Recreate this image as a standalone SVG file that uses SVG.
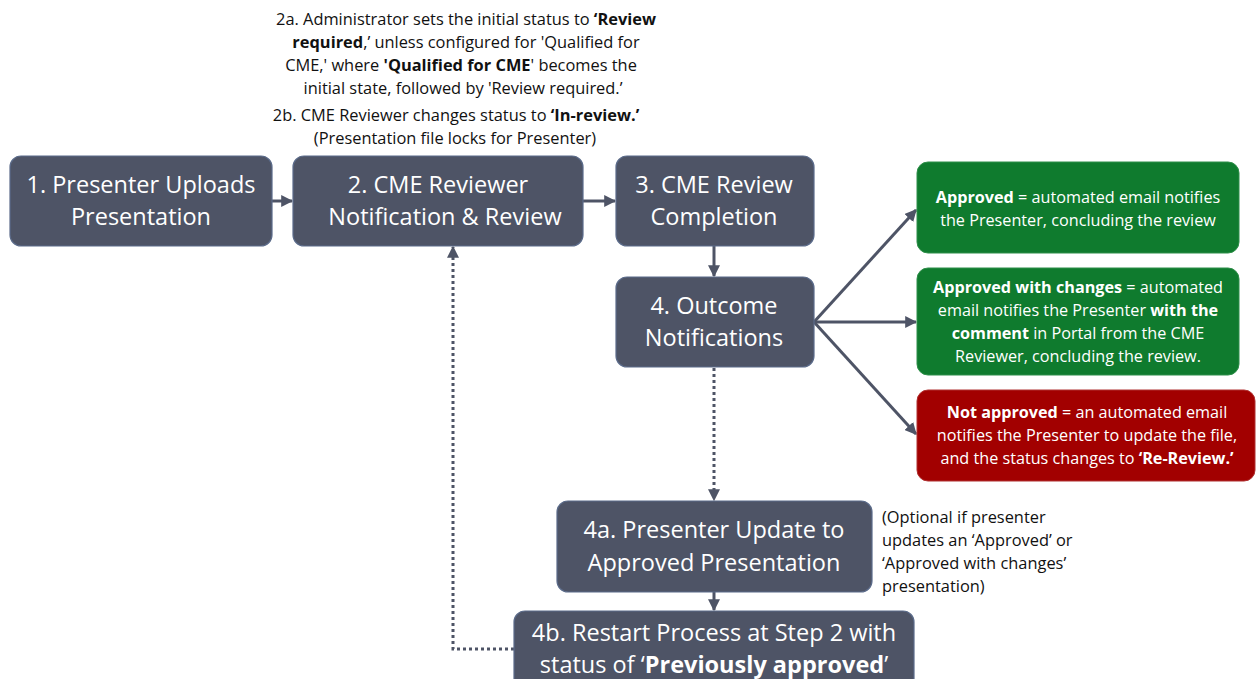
<svg xmlns="http://www.w3.org/2000/svg" width="1256" height="679" viewBox="0 0 1256 679">
<style>
.node{fill:#4e5466;stroke:#5b6b8a;stroke-width:1.2}
.green{fill:#0f7b2e;stroke:#2f8f4a;stroke-width:1}
.red{fill:#a20000;stroke:#b03030;stroke-width:1}
.nt{font-family:"Open Sans","Noto Sans",sans-serif;font-size:23.5px;fill:#ffffff;text-anchor:middle}
.ot{font-family:"Open Sans","Noto Sans",sans-serif;font-size:16.2px;fill:#ffffff;text-anchor:middle}
.at{font-family:"Open Sans","Noto Sans",sans-serif;font-size:16.4px;fill:#111111;text-anchor:middle}
.nl{font-family:"Open Sans","Noto Sans",sans-serif;font-size:16.4px;fill:#111111}
.b{font-weight:bold}
.c{fill:none;stroke:#4e5466;stroke-width:3}
.d{fill:none;stroke:#4e5466;stroke-width:3;stroke-dasharray:3 3}
</style>
<defs>
<marker id="ah" viewBox="0 0 10 10" refX="9" refY="5" markerWidth="4" markerHeight="4" orient="auto" markerUnits="strokeWidth">
<path d="M0,0 L10,5 L0,10 z" fill="#4e5466"/>
</marker>
</defs>

<g id="annotation-2">
<text class="at" x="466" y="25">2a. Administrator sets the initial status to <tspan class="b">‘Review</tspan></text>
<text class="at" x="466" y="48"><tspan class="b">required</tspan>,’ unless configured for 'Qualified for</text>
<text class="at" x="461" y="71">CME,' where <tspan class="b">'Qualified for CME</tspan>' becomes the</text>
<text class="at" x="463" y="94">initial state, followed by 'Review required.’</text>
<text class="at" x="456" y="121">2b. CME Reviewer changes status to <tspan class="b">‘In-review.’</tspan></text>
<text class="at" x="455" y="144">(Presentation file locks for Presenter)</text>
</g>

<g id="connectors">
<line class="c" x1="272" y1="201" x2="292" y2="201" marker-end="url(#ah)"/>
<line class="c" x1="583" y1="201" x2="615" y2="201" marker-end="url(#ah)"/>
<line class="c" x1="714" y1="246" x2="714" y2="276" marker-end="url(#ah)"/>
<line class="c" x1="814" y1="322" x2="916" y2="210" marker-end="url(#ah)"/>
<line class="c" x1="814" y1="322" x2="916" y2="322" marker-end="url(#ah)"/>
<line class="c" x1="814" y1="322" x2="916" y2="434" marker-end="url(#ah)"/>
<line class="d" x1="714" y1="368" x2="714" y2="500" marker-end="url(#ah)"/>
<line class="c" x1="714" y1="592" x2="714" y2="610" marker-end="url(#ah)"/>
<polyline class="d" points="514,649 453,649 453,247" marker-end="url(#ah)"/>
</g>

<g id="node-1">
<rect class="node" x="10" y="156" width="262" height="90" rx="11"/>
<text class="nt" x="141" y="193">1. Presenter Uploads</text>
<text class="nt" x="141" y="225">Presentation</text>
</g>
<g id="node-2">
<rect class="node" x="293" y="156" width="290" height="90" rx="11"/>
<text class="nt" x="438" y="193">2. CME Reviewer</text>
<text class="nt" x="445" y="225">Notification &amp; Review</text>
</g>
<g id="node-3">
<rect class="node" x="616" y="156" width="198" height="90" rx="11"/>
<text class="nt" x="714" y="193">3. CME Review</text>
<text class="nt" x="714" y="225">Completion</text>
</g>
<g id="node-4">
<rect class="node" x="616" y="277" width="198" height="90" rx="11"/>
<text class="nt" x="714" y="314">4. Outcome</text>
<text class="nt" x="714" y="346">Notifications</text>
</g>
<g id="node-approved">
<rect class="green" x="917" y="162" width="322" height="91" rx="11"/>
<text class="ot" x="1078" y="203"><tspan class="b">Approved</tspan> = automated email notifies</text>
<text class="ot" x="1078" y="226">the Presenter, concluding the review</text>
</g>
<g id="node-approved-changes">
<rect class="green" x="917" y="268" width="322" height="107" rx="11"/>
<text class="ot" x="1078" y="293"><tspan class="b">Approved with changes</tspan> = automated</text>
<text class="ot" x="1078" y="316">email notifies the Presenter <tspan class="b">with the</tspan></text>
<text class="ot" x="1078" y="339"><tspan class="b">comment</tspan> in Portal from the CME</text>
<text class="ot" x="1078" y="362">Reviewer, concluding the review.</text>
</g>
<g id="node-not-approved">
<rect class="red" x="917" y="390" width="338" height="91" rx="11"/>
<text class="ot" x="1087" y="418"><tspan class="b">Not approved</tspan> = an automated email</text>
<text class="ot" x="1087" y="441">notifies the Presenter to update the file,</text>
<text class="ot" x="1087" y="464">and the status changes to <tspan class="b">‘Re-Review.’</tspan></text>
</g>
<g id="node-4a">
<rect class="node" x="557" y="501" width="315" height="91" rx="11"/>
<text class="nt" x="714" y="538">4a. Presenter Update to</text>
<text class="nt" x="714" y="571">Approved Presentation</text>
</g>
<g id="note-4a">
<text class="nl" x="882" y="523">(Optional if presenter</text>
<text class="nl" x="882" y="546">updates an ‘Approved’ or</text>
<text class="nl" x="882" y="569">‘Approved with changes’</text>
<text class="nl" x="882" y="592">presentation)</text>
</g>
<g id="node-4b">
<rect class="node" x="514" y="611" width="400" height="80" rx="11"/>
<text class="nt" x="714" y="641">4b. Restart Process at Step 2 with</text>
<text class="nt" x="714" y="673">status of ‘<tspan class="b">Previously approved</tspan>’</text>
</g>
</svg>
